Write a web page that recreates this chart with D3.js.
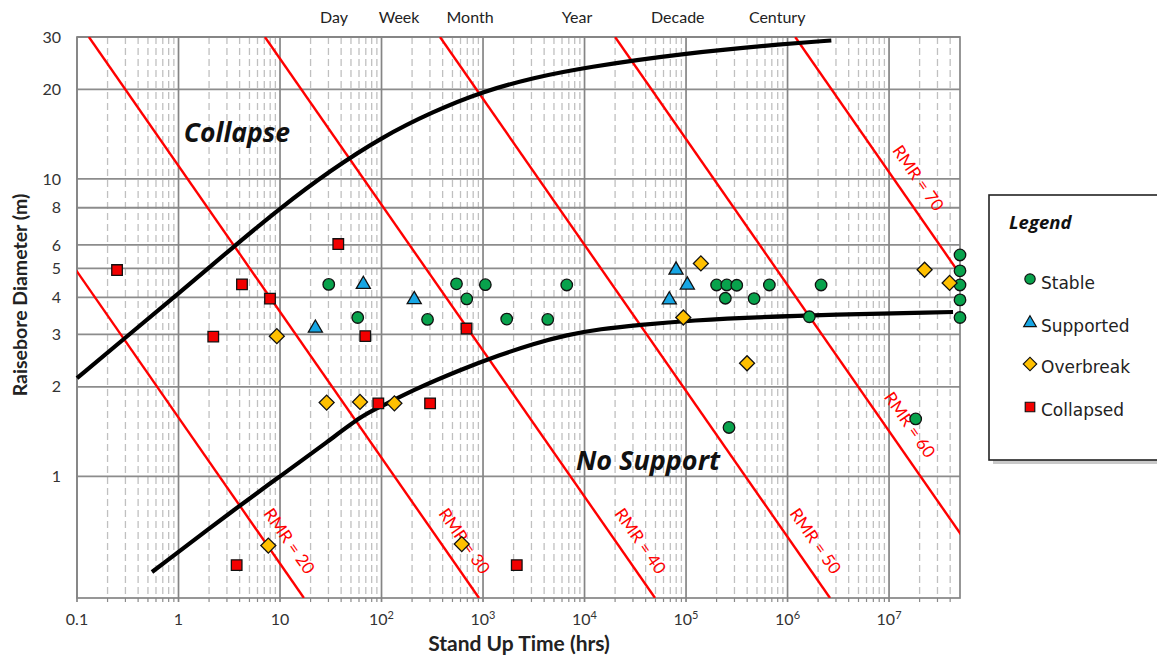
<!DOCTYPE html>
<html><head><meta charset="utf-8">
<script src="https://cdn.jsdelivr.net/npm/d3@7"></script>
<style>body{margin:0;background:#fff}svg{display:block}</style>
</head><body>
<svg id="chart" width="1157" height="658"></svg>
<script>
// ---------------- data ----------------
const xTickValues = [0.1, 1, 10, 100, 1e3, 1e4, 1e5, 1e6, 1e7];
const xTickBase = ["0.1", "1", "10", "10", "10", "10", "10", "10", "10"];
const xTickExp = ["", "", "", "2", "3", "4", "5", "6", "7"];
const yTickValues = [1, 2, 3, 4, 5, 6, 8, 10, 20, 30];
const periodNames = ["Day", "Week", "Month", "Year", "Decade", "Century"];
const periodHours = [34, 149, 745, 8440, 8.3e4, 7.9e5];

const stableTime = [30.2, 58.3, 284, 548, 691, 1054, 1711, 4340, 6680, 2.0e5, 2.52e5, 3.16e5, 2.44e5, 4.68e5, 6.62e5, 1.64e6, 2.14e6, 2.65e5, 1.83e7, 5e7, 5e7, 5e7, 5e7, 5e7];
const stableDiam = [4.42, 3.42, 3.37, 4.44, 3.95, 4.41, 3.38, 3.37, 4.40, 4.40, 4.40, 4.39, 3.97, 3.96, 4.40, 3.44, 4.40, 1.46, 1.56, 5.55, 4.91, 4.40, 3.92, 3.42];

const supportedTime = [22.3, 66.2, 210, 6.84e4, 7.97e4, 1.03e5];
const supportedDiam = [3.15, 4.42, 3.93, 3.92, 4.94, 4.40];

const overbreakTime = [9.3, 28.8, 61.4, 134, 7.67, 617, 9.4e4, 1.40e5, 3.99e5, 2.24e7, 3.95e7];
const overbreakDiam = [2.96, 1.77, 1.78, 1.76, 0.585, 0.592, 3.42, 5.20, 2.40, 4.95, 4.47];

const collapsedTime = [0.248, 4.22, 7.97, 37.5, 2.20, 69.2, 93, 301, 688, 3.74, 2150];
const collapsedDiam = [4.94, 4.42, 3.96, 6.04, 2.95, 2.96, 1.76, 1.76, 3.14, 0.503, 0.503];

const collapseCurveTime = [0.1, 0.316, 1, 3.16, 10, 31.6, 100, 316, 1000, 3160, 1e4, 1e5, 1e6, 2.7e6];
const collapseCurveDiam = [2.14, 2.97, 4.12, 5.75, 7.98, 10.7, 13.8, 16.8, 19.7, 21.9, 23.7, 26.5, 28.5, 29.2];

const noSupportCurveTime = [0.548, 4.04, 10, 29.7, 65.7, 100, 204, 593, 1470, 3110, 6730, 14200, 35200, 1e5, 9.9e5, 4.27e7];
const noSupportCurveDiam = [0.477, 0.80, 1.0, 1.31, 1.61, 1.72, 1.95, 2.28, 2.56, 2.79, 2.99, 3.13, 3.23, 3.34, 3.47, 3.57];

const rmrValues = [20, 30, 40, 50, 60, 70];
const rmrTimeAtTop = [0.00248, 0.131, 7.1, 377, 2.0e4, 1.19e6];      // stand-up time where D = 30 m
const rmrTimeAtBottom = [17.2, 913, 4.95e4, 2.62e6, 1.39e8, 8.2e9];   // stand-up time where D = 0.39 m
const rmrLabelDiam = [0.606, 0.606, 0.606, 0.606, 1.49, 10.07];

const legendNames = ["Stable", "Supported", "Overbreak", "Collapsed"];

// ---------------- setup ----------------
const svg = d3.select("#chart");
const x = d3.scaleLog().domain([0.1, 5e7]).range([77, 960]);
const y = d3.scaleLog().domain([0.39, 30]).range([598, 37]);
const [xL, xR] = x.range();
const [yB, yT] = y.range();
const FONT = "Lato, 'Open Sans', sans-serif";

svg.append("defs").append("clipPath").attr("id", "plotclip")
  .append("rect").attr("x", xL).attr("y", yT).attr("width", xR - xL).attr("height", yB - yT);

const minorX = [];
xTickValues.forEach(d => { for (let k = 2; k <= 9; k++) { const v = d * k; if (v < x.domain()[1]) minorX.push(v); } });

const grid = svg.append("g");
grid.selectAll("line.minor").data(minorX).join("line")
  .attr("x1", d => x(d)).attr("x2", d => x(d)).attr("y1", yT).attr("y2", yB)
  .attr("stroke", "#c0c0c0").attr("stroke-width", 1.3).attr("stroke-dasharray", "7,4");
grid.selectAll("line.mtick").data(minorX).join("line")
  .attr("x1", d => x(d)).attr("x2", d => x(d)).attr("y1", yB).attr("y2", yB + 4)
  .attr("stroke", "#8a8a8a").attr("stroke-width", 1.2);
grid.selectAll("line.hy").data(yTickValues).join("line")
  .attr("x1", xL).attr("x2", xR).attr("y1", d => y(d)).attr("y2", d => y(d))
  .attr("stroke", "#8c8c8c").attr("stroke-width", 1.8);
grid.selectAll("line.vx").data(xTickValues).join("line")
  .attr("x1", d => x(d)).attr("x2", d => x(d)).attr("y1", yT).attr("y2", yB + 4)
  .attr("stroke", "#858585").attr("stroke-width", 1.7);
grid.append("rect").attr("x", xL).attr("y", yT).attr("width", xR - xL).attr("height", yB - yT)
  .attr("fill", "none").attr("stroke", "#858585").attr("stroke-width", 1.7);

// RMR lines
const rmrG = svg.append("g").attr("clip-path", "url(#plotclip)");
rmrValues.forEach((r, i) => {
  rmrG.append("line")
    .attr("x1", x(rmrTimeAtTop[i])).attr("y1", y(30))
    .attr("x2", x(rmrTimeAtBottom[i])).attr("y2", y(0.39))
    .attr("stroke", "#ff0000").attr("stroke-width", 2.4);
});

// curves
const lineGen = d3.line().x(d => x(d[0])).y(d => y(d[1])).curve(d3.curveBasis);
svg.append("path").datum(collapseCurveTime.map((t, i) => [t, collapseCurveDiam[i]]))
  .attr("d", lineGen).attr("fill", "none").attr("stroke", "#000").attr("stroke-width", 4.2);
svg.append("path").datum(noSupportCurveTime.map((t, i) => [t, noSupportCurveDiam[i]]))
  .attr("d", lineGen).attr("fill", "none").attr("stroke", "#000").attr("stroke-width", 4.2);

// RMR labels
rmrValues.forEach((r, i) => {
  const x1 = x(rmrTimeAtTop[i]), y1 = y(30), x2 = x(rmrTimeAtBottom[i]), y2 = y(0.39);
  const ang = Math.atan2(y2 - y1, x2 - x1) * 180 / Math.PI;
  const yc = y(rmrLabelDiam[i]);
  const xc = x1 + (yc - y1) * (x2 - x1) / (y2 - y1) + 25;
  svg.append("text").attr("transform", `translate(${xc},${yc}) rotate(${ang})`)
    .attr("text-anchor", "middle").attr("dy", "0.35em")
    .attr("font-family", FONT).attr("font-size", 17).attr("fill", "#ff0000")
    .text(`RMR = ${r}`);
});

// markers
const symPath = (type, size) => d3.symbol().type(type).size(size)();
const series = [
  { t: stableTime, d: stableDiam, path: symPath(d3.symbolCircle, 104), fill: "#08a24c", rot: 0 },
  { t: supportedTime, d: supportedDiam, path: symPath(d3.symbolTriangle, 86), fill: "#17a6e4", rot: 0 },
  { t: overbreakTime, d: overbreakDiam, path: symPath(d3.symbolSquare, 112), fill: "#ffc000", rot: 45 },
  { t: collapsedTime, d: collapsedDiam, path: symPath(d3.symbolSquare, 112), fill: "#f20000", rot: 0 }
];
series.forEach(s => {
  svg.append("g").selectAll("path").data(s.t.map((t, i) => [t, s.d[i]])).join("path")
    .attr("d", s.path)
    .attr("transform", d => `translate(${x(d[0])},${y(d[1])}) rotate(${s.rot})`)
    .attr("fill", s.fill).attr("stroke", "#111").attr("stroke-width", 1.3);
});

// tick labels
svg.append("g").selectAll("text").data(yTickValues).join("text")
  .attr("x", xL - 16).attr("y", d => y(d)).attr("dy", "0.35em").attr("text-anchor", "end")
  .attr("font-family", FONT).attr("font-size", 16).attr("fill", "#333").text(d => d);
const xt = svg.append("g").selectAll("text").data(xTickValues).join("text")
  .attr("x", d => x(d)).attr("y", 625).attr("text-anchor", "middle")
  .attr("font-family", FONT).attr("font-size", 16).attr("fill", "#333");
xt.each(function (d, i) {
  const t = d3.select(this);
  t.append("tspan").text(xTickBase[i]);
  if (xTickExp[i]) t.append("tspan").attr("dy", -6).attr("font-size", 11).text(xTickExp[i]);
});

// period labels
svg.append("g").selectAll("text").data(periodHours).join("text")
  .attr("x", d => x(d)).attr("y", 23).attr("text-anchor", "middle")
  .attr("font-family", FONT).attr("font-size", 16).attr("fill", "#222")
  .text((d, i) => periodNames[i]);

// axis titles
svg.append("text").attr("x", 519).attr("y", 651).attr("text-anchor", "middle")
  .attr("font-family", FONT).attr("font-weight", "bold").attr("font-size", 21).attr("fill", "#222")
  .text("Stand Up Time (hrs)");
svg.append("text").attr("transform", "translate(27,295) rotate(-90)").attr("text-anchor", "middle")
  .attr("font-family", FONT).attr("font-weight", "bold").attr("font-size", 19.5).attr("fill", "#222")
  .text("Raisebore Diameter (m)");

// region labels
const RFONT = "'Open Sans', Lato, sans-serif";
svg.append("text").attr("x", 237).attr("y", 142).attr("text-anchor", "middle")
  .attr("font-family", RFONT).attr("font-weight", "bold").attr("font-style", "italic").attr("font-size", 26.5)
  .attr("fill", "#111").text("Collapse");
svg.append("text").attr("x", 648).attr("y", 470).attr("text-anchor", "middle")
  .attr("font-family", RFONT).attr("font-weight", "bold").attr("font-style", "italic").attr("font-size", 27)
  .attr("fill", "#111").text("No Support");

// legend
const lg = svg.append("g");
lg.append("rect").attr("x", 993).attr("y", 199).attr("width", 200).attr("height", 265).attr("fill", "#c9c9c9");
lg.append("rect").attr("x", 989).attr("y", 195).attr("width", 200).attr("height", 265)
  .attr("fill", "#fff").attr("stroke", "#222").attr("stroke-width", 1.6);
lg.append("text").attr("x", 1009).attr("y", 229).attr("font-family", RFONT).attr("font-weight", "bold")
  .attr("font-style", "italic").attr("font-size", 18.5).attr("fill", "#111").text("Legend");
const legY = [279, 323, 364, 407];
const legTextY = [289, 332, 373, 416];
series.forEach((s, i) => {
  lg.append("path").attr("d", s.path)
    .attr("transform", `translate(1030,${legY[i]}) rotate(${s.rot}) scale(0.9)`)
    .attr("fill", s.fill).attr("stroke", "#111").attr("stroke-width", 1.3);
  lg.append("text").attr("x", 1041).attr("y", legTextY[i]).attr("font-family", "'DejaVu Sans', sans-serif")
    .attr("font-size", 17).attr("fill", "#222").text(legendNames[i]);
});
</script>
</body></html>
